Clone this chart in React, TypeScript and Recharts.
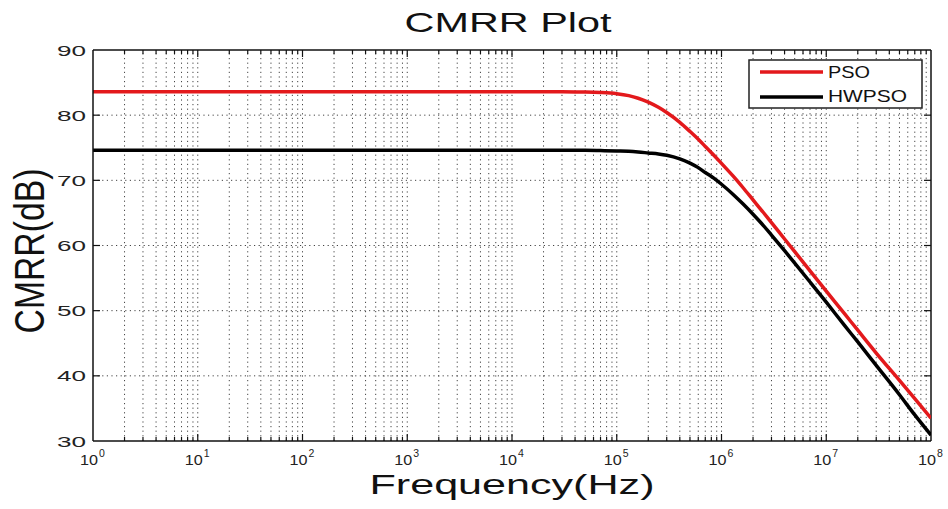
import React from "react";
import { LineChart, Line, XAxis, YAxis, ReferenceLine } from "recharts";

const freqHz = [1, 10, 100, 1e3, 1e4, 3e4, 5e4, 7e4, 1e5, 1.3e5, 1.6e5, 2e5, 2.5e5, 3e5, 4e5, 5e5, 6e5, 7e5, 8.5e5, 1e6, 1.3e6, 1.6e6, 2e6, 2.5e6, 3e6, 4e6, 5e6, 7e6, 1e7, 1.5e7, 2e7, 3e7, 5e7, 7e7, 1e8];
const psoDb = [83.6, 83.6, 83.6, 83.6, 83.6, 83.58, 83.55, 83.48, 83.3, 83.0, 82.6, 82.0, 81.2, 80.4, 78.9, 77.5, 76.3, 75.2, 73.8, 72.6, 70.6, 68.9, 67.0, 65.1, 63.5, 61.0, 59.05, 56.1, 53.0, 49.5, 47.0, 43.5, 39.3, 36.5, 33.5];
const hwpsoDb = [74.6, 74.6, 74.6, 74.6, 74.6, 74.6, 74.6, 74.56, 74.5, 74.45, 74.35, 74.2, 74.05, 73.85, 73.3, 72.65, 71.95, 71.2, 70.3, 69.4, 67.8, 66.4, 64.8, 63.1, 61.6, 59.2, 57.3, 54.4, 51.3, 47.7, 45.2, 41.6, 37.1, 34.0, 30.9];

const xMajorTicks = [1, 10, 100, 1e3, 1e4, 1e5, 1e6, 1e7, 1e8];
const xMinorMultipliers = [2, 3, 4, 5, 6, 7, 8, 9];
const yTicks = [30, 40, 50, 60, 70, 80, 90];

const seriesNames = ["PSO", "HWPSO"];
const seriesColors = ["#e3191c", "#000000"];

const data = freqHz.map((f, i) => ({ f, pso: psoDb[i], hwpso: hwpsoDb[i] }));

const xMinorTicks: number[] = [];
xMajorTicks.slice(0, -1).forEach((d) => xMinorMultipliers.forEach((m) => xMinorTicks.push(d * m)));

const W = 948;
const H = 509;
const PL = 93;
const PR = 931;
const PT = 50;
const PB = 441;

const dbPerPx = 60 / (PB - PT);
const decPerPx = 8 / (PR - PL);

const FONT = "'Liberation Sans', Arial, sans-serif";
const gridStroke = "#444";

const XTick = (props: any) => {
  const { x, payload } = props;
  const n = Math.round(Math.log10(payload.value));
  return (
    <g>
      <text x={x - 4} y={465} textAnchor="middle" fontFamily={FONT} fontSize={15} fill="#222" textLength={18} lengthAdjust="spacingAndGlyphs">
        10
      </text>
      <text x={x + 6} y={457} textAnchor="start" fontFamily={FONT} fontSize={10.5} fill="#222">
        {n}
      </text>
    </g>
  );
};

const YTick = (props: any) => {
  const { y, payload } = props;
  return (
    <text x={86} y={y + 5.5} textAnchor="end" fontFamily={FONT} fontSize={15} fill="#222" textLength={29} lengthAdjust="spacingAndGlyphs">
      {payload.value}
    </text>
  );
};

export default function App() {
  const majLenY = 7 * dbPerPx;
  const minLenY = 4 * dbPerPx;
  const tickFacX = Math.pow(10, 7 * decPerPx);
  return (
    <div style={{ position: "absolute", left: 0, top: 0, width: W, height: H, background: "#fff" }}>
      <LineChart
        width={W}
        height={H}
        data={data}
        margin={{ top: PT, right: W - PR, bottom: 38, left: 33 }}
      >
        <XAxis
          dataKey="f"
          type="number"
          scale="log"
          domain={[1, 1e8]}
          ticks={xMajorTicks}
          tick={<XTick />}
          tickLine={false}
          axisLine={{ stroke: "#111", strokeWidth: 1.5 }}
          height={30}
          allowDataOverflow
          interval={0}
        />
        <YAxis
          type="number"
          domain={[30, 90]}
          ticks={yTicks}
          tick={<YTick />}
          tickLine={false}
          axisLine={{ stroke: "#111", strokeWidth: 1.5 }}
          width={60}
          interval={0}
        />
        {xMinorTicks.concat(xMajorTicks.slice(1, -1)).map((f) => (
          <ReferenceLine key={"vg" + f} x={f} stroke={gridStroke} strokeDasharray="1.2 3.4" strokeWidth={1} />
        ))}
        {yTicks.slice(1, -1).map((v) => (
          <ReferenceLine key={"hg" + v} y={v} stroke={gridStroke} strokeDasharray="1.2 3.4" strokeWidth={1} />
        ))}
        {xMinorTicks.map((f) => (
          <ReferenceLine key={"bt" + f} segment={[{ x: f, y: 30 }, { x: f, y: 30 + minLenY }]} stroke="#111" strokeWidth={1.2} />
        ))}
        {xMinorTicks.map((f) => (
          <ReferenceLine key={"tt" + f} segment={[{ x: f, y: 90 }, { x: f, y: 90 - minLenY }]} stroke="#111" strokeWidth={1.2} />
        ))}
        {xMajorTicks.slice(1, -1).map((f) => (
          <ReferenceLine key={"bM" + f} segment={[{ x: f, y: 30 }, { x: f, y: 30 + majLenY }]} stroke="#111" strokeWidth={1.2} />
        ))}
        {xMajorTicks.slice(1, -1).map((f) => (
          <ReferenceLine key={"tM" + f} segment={[{ x: f, y: 90 }, { x: f, y: 90 - majLenY }]} stroke="#111" strokeWidth={1.2} />
        ))}
        {yTicks.slice(1, -1).map((v) => (
          <ReferenceLine key={"lt" + v} segment={[{ x: 1, y: v }, { x: tickFacX, y: v }]} stroke="#111" strokeWidth={1.2} />
        ))}
        {yTicks.slice(1, -1).map((v) => (
          <ReferenceLine key={"rt" + v} segment={[{ x: 1e8 / tickFacX, y: v }, { x: 1e8, y: v }]} stroke="#111" strokeWidth={1.2} />
        ))}
        <ReferenceLine y={90} stroke="#111" strokeWidth={1.5} />
        <ReferenceLine x={1e8} stroke="#111" strokeWidth={1.5} />
        <Line
          type="monotone"
          dataKey="hwpso"
          name={seriesNames[1]}
          stroke={seriesColors[1]}
          strokeWidth={3.5}
          dot={false}
          isAnimationActive={false}
        />
        <Line
          type="monotone"
          dataKey="pso"
          name={seriesNames[0]}
          stroke={seriesColors[0]}
          strokeWidth={3.5}
          dot={false}
          isAnimationActive={false}
        />
      </LineChart>
      <svg
        width={W}
        height={H}
        style={{ position: "absolute", left: 0, top: 0, pointerEvents: "none" }}
      >
        <text x={508} y={32} textAnchor="middle" fontFamily={FONT} fontSize={27.5} fill="#111" textLength={207} lengthAdjust="spacingAndGlyphs">
          CMRR Plot
        </text>
        <text x={512} y={494} textAnchor="middle" fontFamily={FONT} fontSize={27} fill="#111" textLength={285} lengthAdjust="spacingAndGlyphs">
          Frequency(Hz)
        </text>
        <g transform="translate(44,251) scale(1.3,1) rotate(-90)">
          <text x={0} y={0} textAnchor="middle" fontFamily={FONT} fontSize={32} fill="#111" textLength={165} lengthAdjust="spacingAndGlyphs">
            CMRR(dB)
          </text>
        </g>
        <rect x={749} y={60} width={173} height={48} fill="#fff" stroke="#222" strokeWidth={1.5} />
        {seriesNames.map((name, i) => (
          <g key={name}>
            <line x1={760} x2={823} y1={72 + i * 25} y2={72 + i * 25} stroke={seriesColors[i]} strokeWidth={3.5} />
            <text
              x={828}
              y={78 + i * 24}
              fontFamily={FONT}
              fontSize={16.5}
              fill="#111"
              textLength={i === 0 ? 42 : 79}
              lengthAdjust="spacingAndGlyphs"
            >
              {name}
            </text>
          </g>
        ))}
      </svg>
    </div>
  );
}
